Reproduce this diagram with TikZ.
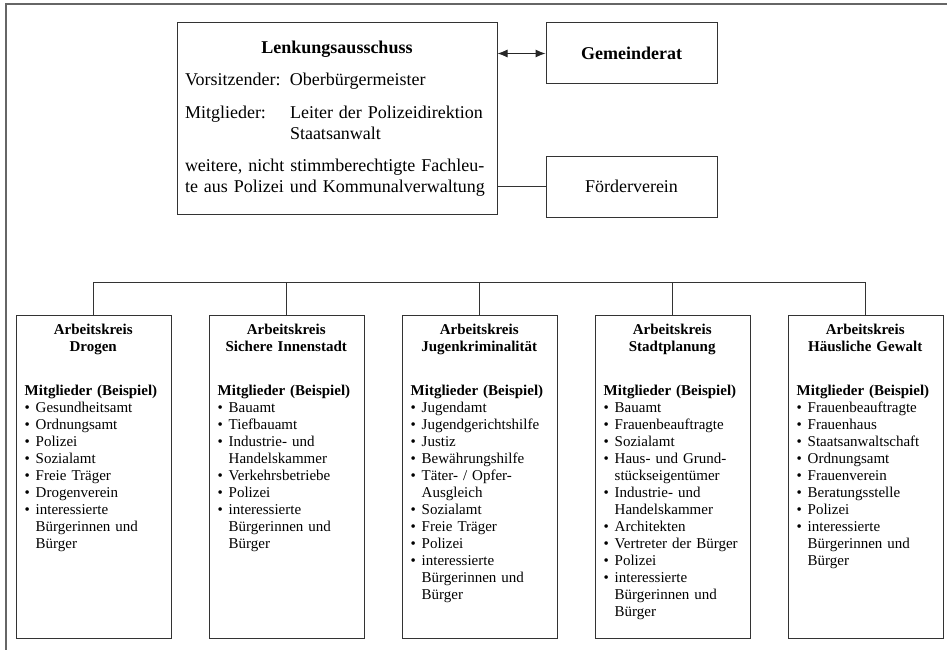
\documentclass[tikz,border=0pt]{standalone}
\usepackage{fontspec}
\setmainfont{Liberation Serif}
\usetikzlibrary{positioning,arrows.meta}
\setlength{\parindent}{0pt}

% bullet line with hanging indent
\newcommand{\bul}[1]{\par\hangindent=11pt\hangafter=1\noindent\makebox[11pt][l]{\textbullet}#1}

\begin{document}
\begin{tikzpicture}[
    x=1pt, y=-1pt,
    frame/.style={draw=black!60, line width=1.5pt},
    line/.style={draw=black!80, line width=1pt},
    block/.style={rectangle, draw=black!80, line width=1pt, inner sep=0pt, minimum width=171pt, minimum height=61pt, font=\fontsize{18}{21.5}\selectfont},
    group/.style={rectangle, draw=black!80, line width=1pt, minimum width=155pt, minimum height=323pt, inner sep=0pt},
    grouptext/.style={anchor=north west, text width=137pt, align=left, inner sep=0pt, font=\fontsize{15}{17}\selectfont},
    arrow/.style={{Latex[length=10pt,width=8pt]}-{Latex[length=10pt,width=8pt]}, draw=black!85, line width=1pt},
]
    \useasboundingbox (0,0) rectangle (947,650);
    \draw[frame] (947,4) -- (6,4) -- (6,650);

    % --- Top: steering committee ---
    \node[block, minimum width=320pt, minimum height=191pt, text width=304pt, align=left] (lenk) at (337,118.5)
        {{\centering\bfseries Lenkungsausschuss\par}
         \vspace{11pt}
         \makebox[105pt][l]{Vorsitzender:}Oberbürgermeister\par
         \vspace{11pt}
         \makebox[105pt][l]{Mitglieder:}Leiter der Polizeidirektion\newline
         \hspace*{105pt}Staatsanwalt\par
         \vspace{10pt}
         weitere, nicht stimmberechtigte Fachleu-\newline
         te aus Polizei und Kommunalverwaltung\par};
    \node[block, font=\fontsize{18}{20}\selectfont\bfseries, right=48pt of lenk.north east, anchor=north west] (gem) {Gemeinderat};
    \node[block, below=71pt of gem] (foerd) {Förderverein};

    \draw[arrow] (lenk.east |- gem.west) -- (gem.west);
    \draw[line] (lenk.east |- foerd.west) -- (foerd.west);

    % --- Working groups ---
    \node[group, anchor=north] (ak1) at (93.5,315) {};
    \node[group, right=37pt of ak1] (ak2) {};
    \node[group, right=37pt of ak2] (ak3) {};
    \node[group, right=37pt of ak3] (ak4) {};
    \node[group, right=37pt of ak4] (ak5) {};

    \node[grouptext] (t1) at ([xshift=9pt, yshift=-9pt]ak1.north west)
        {{\centering\bfseries Arbeitskreis\\Drogen\par}\vspace{27pt}
         \textbf{Mitglieder (Beispiel)}
         \bul{Gesundheitsamt}
         \bul{Ordnungsamt}
         \bul{Polizei}
         \bul{Sozialamt}
         \bul{Freie Träger}
         \bul{Drogenverein}
         \bul{interessierte\newline Bürgerinnen und\newline Bürger}\par};
    \node[grouptext] (t2) at ([xshift=9pt, yshift=-9pt]ak2.north west)
        {{\centering\bfseries Arbeitskreis\\Sichere Innenstadt\par}\vspace{27pt}
         \textbf{Mitglieder (Beispiel)}
         \bul{Bauamt}
         \bul{Tiefbauamt}
         \bul{Industrie- und\newline Handelskammer}
         \bul{Verkehrsbetriebe}
         \bul{Polizei}
         \bul{interessierte\newline Bürgerinnen und\newline Bürger}\par};
    \node[grouptext] (t3) at ([xshift=9pt, yshift=-9pt]ak3.north west)
        {{\centering\bfseries Arbeitskreis\\Jugenkriminalität\par}\vspace{27pt}
         \textbf{Mitglieder (Beispiel)}
         \bul{Jugendamt}
         \bul{Jugendgerichtshilfe}
         \bul{Justiz}
         \bul{Bewährungshilfe}
         \bul{Täter- / Opfer-\newline Ausgleich}
         \bul{Sozialamt}
         \bul{Freie Träger}
         \bul{Polizei}
         \bul{interessierte\newline Bürgerinnen und\newline Bürger}\par};
    \node[grouptext] (t4) at ([xshift=9pt, yshift=-9pt]ak4.north west)
        {{\centering\bfseries Arbeitskreis\\Stadtplanung\par}\vspace{27pt}
         \textbf{Mitglieder (Beispiel)}
         \bul{Bauamt}
         \bul{Frauenbeauftragte}
         \bul{Sozialamt}
         \bul{Haus- und Grund-\newline stückseigentümer}
         \bul{Industrie- und\newline Handelskammer}
         \bul{Architekten}
         \bul{Vertreter der Bürger}
         \bul{Polizei}
         \bul{interessierte\newline Bürgerinnen und\newline Bürger}\par};
    \node[grouptext] (t5) at ([xshift=9pt, yshift=-9pt]ak5.north west)
        {{\centering\bfseries Arbeitskreis\\Häusliche Gewalt\par}\vspace{27pt}
         \textbf{Mitglieder (Beispiel)}
         \bul{Frauenbeauftragte}
         \bul{Frauenhaus}
         \bul{Staatsanwaltschaft}
         \bul{Ordnungsamt}
         \bul{Frauenverein}
         \bul{Beratungsstelle}
         \bul{Polizei}
         \bul{interessierte\newline Bürgerinnen und\newline Bürger}\par};

    % --- Bus line ---
    \coordinate (bus) at (0,282);
    \draw[line] (ak1.north) -- (ak1.north |- bus) -- (ak5.north |- bus) -- (ak5.north);
    \draw[line] (ak2.north) -- (ak2.north |- bus);
    \draw[line] (ak3.north) -- (ak3.north |- bus);
    \draw[line] (ak4.north) -- (ak4.north |- bus);

\end{tikzpicture}
\end{document}
